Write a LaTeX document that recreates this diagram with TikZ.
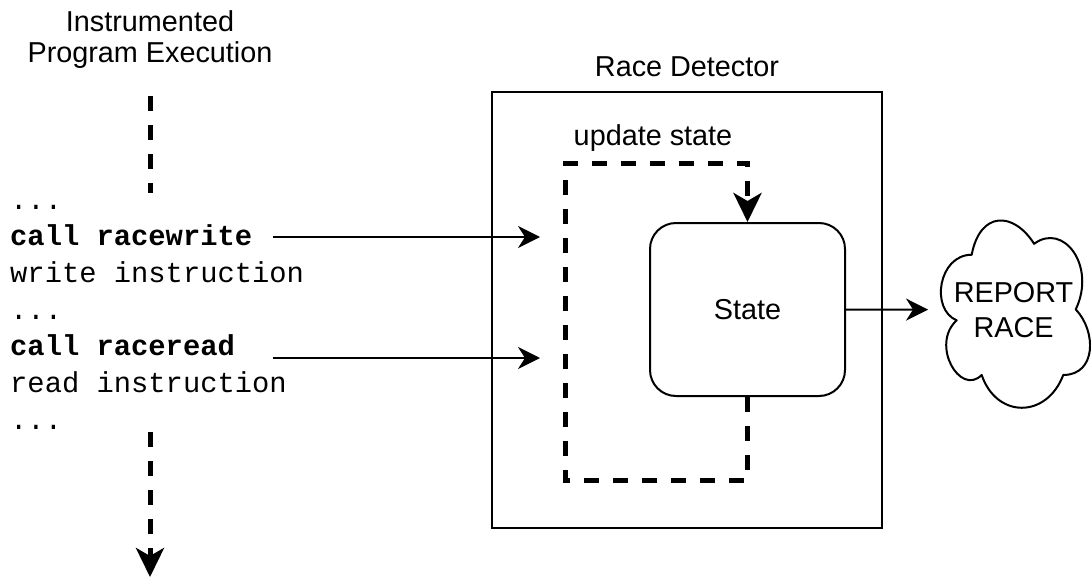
\documentclass[tikz,border=0pt]{standalone}
\usepackage{fontspec}
\setmainfont{Liberation Sans}
\newfontfamily\codefont{Liberation Mono}
\usetikzlibrary{arrows.meta}
\begin{document}
\begin{tikzpicture}[x=1pt,y=-1pt,
  txt/.style={font=\fontsize{28.8}{31}\selectfont, inner sep=0pt},
  code/.style={font=\codefont\fontsize{28.8}{36.7}\selectfont, inner sep=0pt, anchor=base west},
  thinline/.style={line width=2pt},
  arr/.style={line width=2pt, -{Stealth[length=22pt,width=22pt,inset=7pt]}},
  dsh/.style={line width=5pt, dash pattern=on 15pt off 14pt},
  darr/.style={dsh, -{Stealth[length=29pt,width=28pt,inset=8pt]}},
]
\fill[white] (0,0) rectangle (1091,578);
\useasboundingbox (0,0) rectangle (1091,578);

% left column
\node[txt, align=center] (title) at (150,40) {Instrumented\\Program Execution};
\node[code] (d1) at (10,209) {...};
\node[code] (cw) at (10,245) {\bfseries call racewrite};
\node[code] (wi) at (10,282) {write instruction};
\node[code] (d2) at (10,319) {...};
\node[code] (cr) at (10,355) {\bfseries call raceread};
\node[code] (ri) at (10,392) {read instruction};
\node[code] (d3) at (10,429) {...};

\coordinate (ptop) at (150,96);
\coordinate (pmid) at (150,193);
\coordinate (pbot) at (150,432);
\coordinate (pend) at (150,577);
\draw[dsh] (ptop) -- (pmid);
\draw[darr] (pbot) -- (pend);

% race detector
\node[draw, thinline, minimum width=390pt, minimum height=436pt, inner sep=0pt] (det) at (687,310) {};
\node[txt, anchor=base] (detlabel) at (687,77) {Race Detector};
\node[txt, anchor=base] (upd) at (653,145) {update state};
\node[txt, draw, thinline, rounded corners=26pt, minimum width=195pt, minimum height=173pt] (state) at (747.5,309.5) {State};

% update loop
\coordinate (lb) at (565,480);
\coordinate (lt) at (565,163);
\draw[darr, line join=miter] (state.south) -- (state.south |- lb) -- (lb) -- (lt) -- (state.north |- lt) -- (state.north);

% incoming calls
\coordinate (wdst) at (540,237);
\coordinate (rdst) at (540,358);
\draw[arr] ([xshift=21pt]cw.east |- wdst) coordinate (wsrc) -- (wdst);
\draw[arr] (wsrc |- rdst) -- (rdst);

% cloud
\node[txt, align=center, minimum width=166.5pt, minimum height=218.6pt] (cloud) at (1013.5,309.6) {REPORT\\[4pt]RACE};
\begin{scope}[shift={(cloud.north west)}, x=166.5pt, y=-218.6pt]
\draw[thinline, line join=round] (0.25,0.25) .. controls (0.05,0.25) and (0,0.5) .. (0.16,0.55)
  .. controls (0,0.66) and (0.18,0.9) .. (0.31,0.8)
  .. controls (0.4,1) and (0.7,1) .. (0.8,0.8)
  .. controls (1,0.8) and (1,0.6) .. (0.875,0.5)
  .. controls (1,0.3) and (0.8,0.1) .. (0.625,0.2)
  .. controls (0.5,0.05) and (0.3,0.05) .. (0.25,0.25) -- cycle;
\end{scope}
\draw[arr] (state.east) -- ([xshift=-2pt]cloud.west);
\end{tikzpicture}
\end{document}
